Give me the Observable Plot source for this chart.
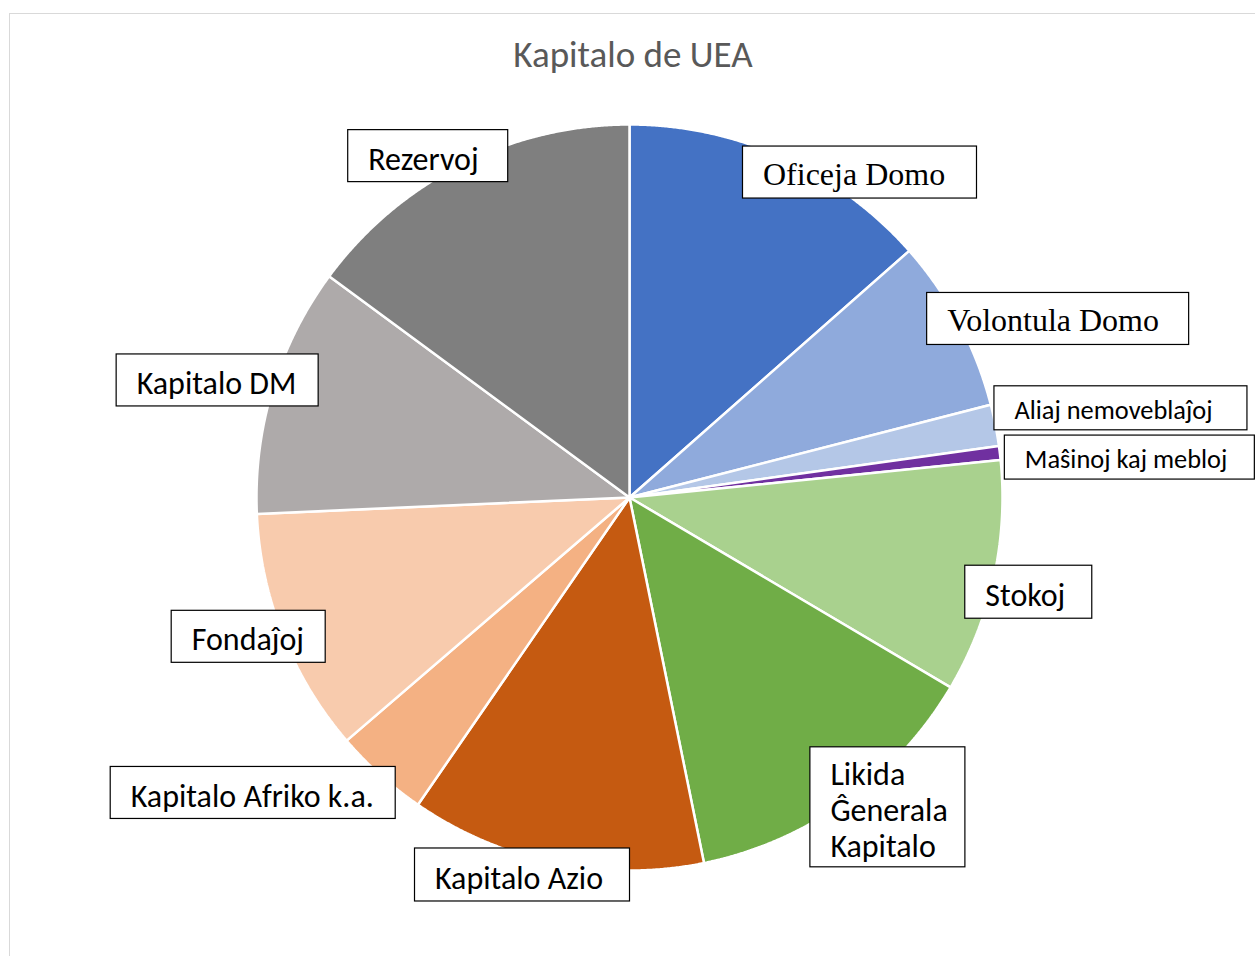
<!DOCTYPE html>
<html><head><meta charset="utf-8">
<script src="https://cdn.jsdelivr.net/npm/d3@7"></script>
<script src="https://cdn.jsdelivr.net/npm/@observablehq/plot@0.6"></script>
<style>
html,body{margin:0;padding:0;background:#fff;width:1255px;height:956px;overflow:hidden;position:relative}
#frame{position:absolute;left:9px;top:13px;width:1300px;height:1000px;border:1.5px solid #d9d9d9;z-index:2;pointer-events:none}
#title{height:100px;position:relative}
#title span{position:absolute;left:0;width:1266px;text-align:center;top:36px;font-size:37px;line-height:37px;font-family:Carlito,Lato,sans-serif;color:#595959}
</style></head><body>
<div id="frame"></div>
<div id="title"><span>Kapitalo de UEA</span></div>
<div id="chart"></div>
<script>
// ---- data ----
const categories = ["Oficeja Domo","Volontula Domo","Aliaj nemoveblaĵoj","Maŝinoj kaj mebloj","Stokoj","Likida Ĝenerala Kapitalo","Kapitalo Azio","Kapitalo Afriko k.a.","Fondaĵoj","Kapitalo DM","Rezervoj"];
const values = [13.5, 7.5, 1.8, 0.6, 10.1, 13.3, 12.8, 4.1, 10.6, 10.8, 14.9];
const labelTexts = ["Oficeja Domo","Volontula Domo","Aliaj nemoveblaĵoj","Maŝinoj kaj mebloj","Stokoj","Likida\nĜenerala\nKapitalo","Kapitalo Azio","Kapitalo Afriko k.a.","Fondaĵoj","Kapitalo DM","Rezervoj"];
const colors = ["#4472C4","#8FAADC","#B4C7E7","#7030A0","#A9D18E","#70AD47","#C55A11","#F4B183","#F8CBAD","#AEAAAA","#7F7F7F"];

// ---- layout (label boxes: pixel offset from slice rim midpoint, box size) ----
const labelLayout = [
  {dx: 77, dy: 15, w: 234, h: 52, font: "serif"},
  {dx: 99, dy: -4, w: 262, h: 52, font: "serif"},
  {dx: 125.5, dy: -17, w: 253, h: 44, font: "small"},
  {dx: 130, dy: 4.5, w: 250, h: 44, font: "small"},
  {dx: 35, dy: 14.5, w: 127, h: 53, font: "sans"},
  {dx: 42, dy: 6, w: 155, h: 120, font: "sans"},
  {dx: -32.5, dy: 12, w: 215, h: 53, font: "sans"},
  {dx: -127, dy: 18, w: 285, h: 52, font: "sans"},
  {dx: -34, dy: 2, w: 154, h: 52, font: "sans"},
  {dx: -55, dy: -8.5, w: 202, h: 52, font: "sans"},
  {dx: -33, dy: -8.5, w: 160, h: 52, font: "sans"}
];
const R = 373, CX = 629, CY = 397, W = 1255, H = 856;

const arcs = d3.pie().sort(null).value(d => d)(values);
const slicePts = [];
arcs.forEach((a, i) => {
  slicePts.push({name: categories[i], x: 0, y: 0});
  const n = Math.max(2, Math.ceil((a.endAngle - a.startAngle) / 0.004));
  for (let k = 0; k <= n; k++) {
    const t = a.startAngle + (a.endAngle - a.startAngle) * k / n;
    slicePts.push({name: categories[i], x: Math.sin(t), y: Math.cos(t)});
  }
});

const labels = arcs.map((a, i) => {
  const mid = (a.startAngle + a.endAngle) / 2;
  const L = labelLayout[i];
  const cx = Math.sin(mid) + L.dx / R, cy = Math.cos(mid) - L.dy / R;
  return {text: labelTexts[i], font: L.font,
    x1: cx - L.w / 2 / R, x2: cx + L.w / 2 / R,
    y1: cy - L.h / 2 / R, y2: cy + L.h / 2 / R, cy};
});

const sansFamily = "Carlito, Lato, sans-serif";
const chart = Plot.plot({
  width: W, height: H, margin: 0,
  style: {background: "transparent", overflow: "visible"},
  x: {domain: [-CX / R, (W - CX) / R], axis: null},
  y: {domain: [-(H - CY) / R, CY / R], axis: null},
  color: {domain: categories, range: colors},
  marks: [
    Plot.line(slicePts, {x: "x", y: "y", z: "name", fill: "name", stroke: "white", strokeWidth: 2.5, curve: "linear-closed", strokeLinejoin: "miter"}),
    Plot.rect(labels, {x1: "x1", x2: "x2", y1: "y1", y2: "y2", fill: "white", stroke: "black", strokeWidth: 1.2}),
    Plot.text(labels.filter(d => d.font === "serif"), {x: "x1", y: "cy", text: "text", dx: 20, dy: 2, textAnchor: "start", lineAnchor: "middle", fontFamily: "Liberation Serif, serif", fontSize: 32, fill: "black"}),
    Plot.text(labels.filter(d => d.font === "sans"), {x: "x1", y: "cy", text: "text", dx: 20, dy: 2, textAnchor: "start", lineAnchor: "middle", fontFamily: sansFamily, fontSize: 32, lineHeight: 1.13, fill: "black"}),
    Plot.text(labels.filter(d => d.font === "small"), {x: "x1", y: "cy", text: "text", dx: 20, dy: 2, textAnchor: "start", lineAnchor: "middle", fontFamily: sansFamily, fontSize: 26.4, fill: "black"})
  ]
});
document.getElementById("chart").appendChild(chart);
</script>
</body></html>
